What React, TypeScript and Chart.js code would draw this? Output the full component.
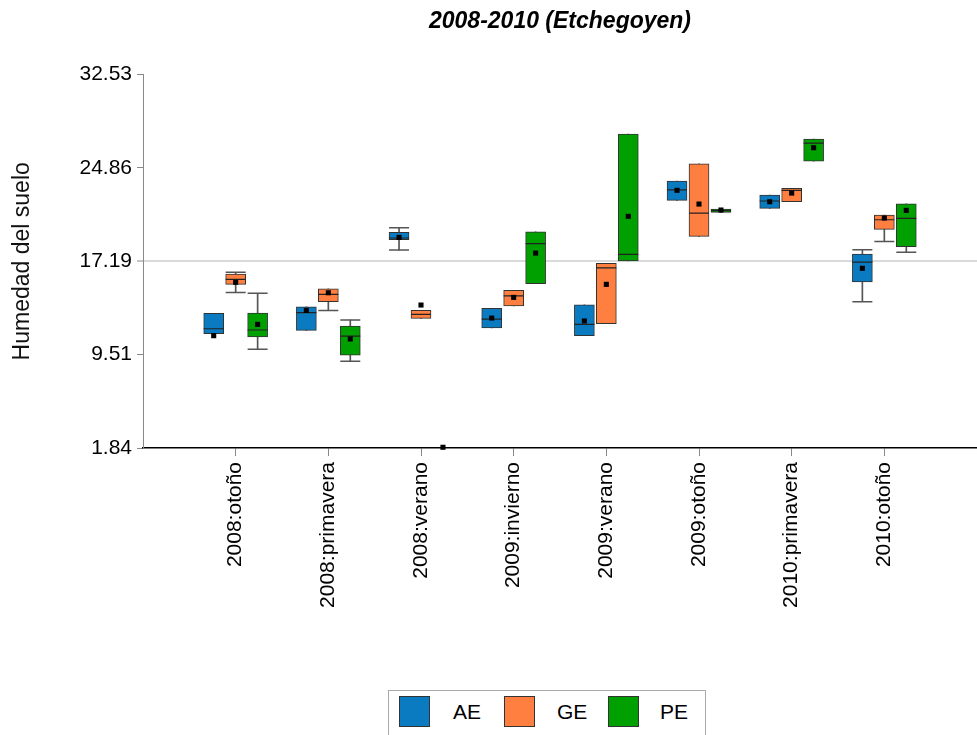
import React, { useEffect, useRef } from 'react';
import { Chart, registerables } from 'chart.js';

Chart.register(...registerables);

// ---------- data ----------
const categories = [
  '2008:otoño',
  '2008:primavera',
  '2008:verano',
  '2009:invierno',
  '2009:verano',
  '2009:otoño',
  '2010:primavera',
  '2010:otoño',
];
const seriesNames = ['AE', 'GE', 'PE'];
const seriesColors = ['#0b7bc1', '#ff7f40', '#00a000'];
const yTickValues = [1.84, 9.51, 17.19, 24.86, 32.53];
const referenceValue = 17.19;

const aeMin = [11.23, 11.51, 18.11, 11.7, 11.07, 22.19, 21.54, 13.86];
const aeQ1 = [11.23, 11.51, 18.96, 11.7, 11.07, 22.19, 21.54, 15.5];
const aeMedian = [11.64, 12.96, 19.1, 12.44, 12.0, 23.06, 22.14, 17.12];
const aeQ3 = [12.91, 13.45, 19.56, 13.32, 13.61, 23.78, 22.63, 17.78];
const aeMax = [12.91, 13.45, 19.94, 13.32, 13.61, 23.78, 22.63, 18.13];
const aeMean = [11.07, 13.15, 19.15, 12.52, 12.28, 23.02, 22.08, 16.61];

const geMin = [14.63, 13.15, 12.5, 13.51, 12.05, 19.23, 22.08, 18.82];
const geQ1 = [15.29, 13.86, 12.5, 13.51, 12.05, 19.23, 22.08, 19.81];
const geMedian = [15.7, 14.47, 12.83, 14.35, 16.65, 21.15, 23.02, 20.6];
const geQ3 = [16.14, 14.93, 13.15, 14.8, 17.02, 25.2, 23.18, 20.99];
const geMax = [16.28, 14.93, 13.15, 14.8, 17.02, 25.2, 23.18, 20.99];
const geMean = [15.46, 14.6, 13.59, 14.22, 15.29, 21.89, 22.79, 20.74];

const peMin = [9.95, 8.96, null, 15.34, 17.21, 21.21, 25.42, 17.92];
const peQ1 = [10.96, 9.48, null, 15.34, 17.21, 21.21, 25.42, 18.38];
const peMedian = [11.54, 11.04, null, 18.63, 17.76, 21.35, 26.9, 20.71];
const peQ3 = [12.93, 11.86, null, 19.61, 27.64, 21.48, 27.23, 21.91];
const peMax = [14.55, 12.36, null, 19.61, 27.64, 21.48, 27.23, 21.91];
const peMean = [12.0, 10.8, 1.9, 17.86, 20.88, 21.4, 26.52, 21.37];

type Num = number | null;
const seriesStats: { min: Num[]; q1: Num[]; med: Num[]; q3: Num[]; max: Num[]; mean: Num[] }[] = [
  { min: aeMin, q1: aeQ1, med: aeMedian, q3: aeQ3, max: aeMax, mean: aeMean },
  { min: geMin, q1: geQ1, med: geMedian, q3: geQ3, max: geMax, mean: geMean },
  { min: peMin, q1: peQ1, med: peMedian, q3: peQ3, max: peMax, mean: peMean },
];

const groupOffset = 0.237;

function buildDatasets() {
  const ds: any[] = [];
  seriesStats.forEach((s, k) => {
    const off = (k - 1) * groupOffset;
    const xs = categories.map((_, i) => i + 1 + off);
    const idx = categories.map((_, i) => i);
    // whiskers
    ds.push({
      type: 'bar',
      label: seriesNames[k] + ' whisker',
      data: idx
        .filter((i) => s.min[i] != null && s.max[i] != null)
        .map((i) => ({ x: xs[i], y: [s.min[i], s.max[i]] })),
      backgroundColor: '#555',
      borderWidth: 0,
      barThickness: 1,
      grouped: false,
      order: 4,
    });
    // caps
    const caps: any[] = [];
    idx.forEach((i) => {
      if (s.min[i] != null && s.q1[i] != null && (s.min[i] as number) < (s.q1[i] as number))
        caps.push({ x: xs[i], y: s.min[i] });
      if (s.max[i] != null && s.q3[i] != null && (s.max[i] as number) > (s.q3[i] as number))
        caps.push({ x: xs[i], y: s.max[i] });
    });
    ds.push({
      type: 'scatter',
      label: seriesNames[k] + ' caps',
      data: caps,
      pointStyle: 'line',
      radius: 10,
      borderColor: '#555',
      borderWidth: 1.5,
      order: 3,
    });
    // boxes
    ds.push({
      type: 'bar',
      label: seriesNames[k],
      data: idx
        .filter((i) => s.q1[i] != null && s.q3[i] != null)
        .map((i) => ({ x: xs[i], y: [s.q1[i], s.q3[i]] })),
      backgroundColor: seriesColors[k],
      borderColor: '#333',
      borderWidth: 1,
      borderSkipped: false,
      barThickness: 20,
      grouped: false,
      order: 2,
    });
    // medians
    ds.push({
      type: 'scatter',
      label: seriesNames[k] + ' median',
      data: idx.filter((i) => s.med[i] != null).map((i) => ({ x: xs[i], y: s.med[i] })),
      pointStyle: 'line',
      radius: 10,
      borderColor: '#222',
      borderWidth: 1.2,
      order: 1,
    });
    // means
    ds.push({
      type: 'scatter',
      label: seriesNames[k] + ' mean',
      data: idx.filter((i) => s.mean[i] != null).map((i) => ({ x: xs[i], y: s.mean[i] })),
      pointStyle: 'rect',
      radius: 3.6,
      backgroundColor: '#000',
      borderColor: '#000',
      borderWidth: 0,
      clip: false,
      order: 0,
    });
  });
  return ds;
}

export default function App() {
  const canvasRef = useRef<HTMLCanvasElement | null>(null);

  useEffect(() => {
    if (!canvasRef.current) return;
    Chart.defaults.font.family = "'Liberation Sans', Arial, sans-serif";
    Chart.defaults.color = '#000';
    const chart = new Chart(canvasRef.current, {
      type: 'bar',
      data: { datasets: buildDatasets() },
      options: {
        animation: false,
        responsive: false,
        maintainAspectRatio: false,
        events: [],
        layout: { padding: 0, autoPadding: false },
        plugins: {
          legend: { display: false },
          tooltip: { enabled: false },
          title: {
            display: true,
            text: '2008-2010 (Etchegoyen)',
            fullSize: false,
            color: '#000',
            font: { size: 23, weight: 'bold', style: 'italic' },
            padding: { top: 8, bottom: 39 },
          },
        },
        scales: {
          x: {
            type: 'linear',
            min: 0,
            max: categories.length + 1,
            offset: false,
            afterBuildTicks: (scale: any) => {
              scale.ticks = categories.map((_, i) => ({ value: i + 1 }));
            },
            afterFit: (scale: any) => {
              scale.height = 232;
              scale.paddingLeft = 0;
              scale.paddingRight = 0;
            },
            ticks: {
              autoSkip: false,
              minRotation: 90,
              maxRotation: 90,
              padding: 6,
              color: '#000',
              font: { size: 21 },
              callback: (v: any) => categories[Number(v) - 1] ?? '',
            },
            grid: {
              display: true,
              offset: false,
              drawOnChartArea: false,
              drawTicks: true,
              tickLength: 8,
              tickColor: '#888',
            },
            border: { color: '#000', width: 1.5 },
          },
          y: {
            type: 'linear',
            min: yTickValues[0],
            max: yTickValues[yTickValues.length - 1],
            afterBuildTicks: (scale: any) => {
              scale.ticks = yTickValues.map((v) => ({ value: v }));
            },
            afterFit: (scale: any) => {
              scale.width = 143;
            },
            ticks: {
              padding: 5,
              color: '#000',
              font: { size: 21 },
              callback: (v: any) => Number(v).toFixed(2),
            },
            grid: {
              drawTicks: true,
              tickLength: 6,
              tickColor: '#888',
              tickWidth: 1,
              color: (ctx: any) =>
                ctx.tick && ctx.tick.value === referenceValue ? '#dadada' : 'rgba(0,0,0,0)',
              lineWidth: (ctx: any) => (ctx.tick && ctx.tick.value === referenceValue ? 2 : 1),
            },
            border: { color: '#888', width: 1 },
            title: {
              display: true,
              text: 'Humedad del suelo',
              color: '#111',
              font: { size: 23 },
              padding: { top: 9, bottom: 0 },
            },
          },
        },
      } as any,
    });
    return () => chart.destroy();
  }, []);

  const legendSquares = [10, 115, 219];
  const legendTexts = [64, 168, 271];

  return (
    <div
      style={{
        position: 'fixed',
        left: 0,
        top: 0,
        width: 977,
        height: 735,
        background: '#fff',
        overflow: 'hidden',
      }}
    >
      <canvas
        ref={canvasRef}
        width={977}
        height={680}
        style={{ position: 'absolute', left: 0, top: 0, width: 977, height: 680 }}
      />
      <div
        style={{
          position: 'absolute',
          left: 388,
          top: 690,
          width: 316,
          height: 60,
          border: '1px solid #aaa',
          fontFamily: "'Liberation Sans', Arial, sans-serif",
          fontSize: 21,
          color: '#000',
        }}
      >
        {seriesNames.map((name, k) => (
          <React.Fragment key={name}>
            <div
              style={{
                position: 'absolute',
                left: legendSquares[k],
                top: 5,
                width: 29,
                height: 29,
                background: seriesColors[k],
                border: '1px solid #333',
              }}
            />
            <div
              style={{
                position: 'absolute',
                left: legendTexts[k],
                top: 5,
                height: 31,
                lineHeight: '31px',
              }}
            >
              {name}
            </div>
          </React.Fragment>
        ))}
      </div>
    </div>
  );
}
